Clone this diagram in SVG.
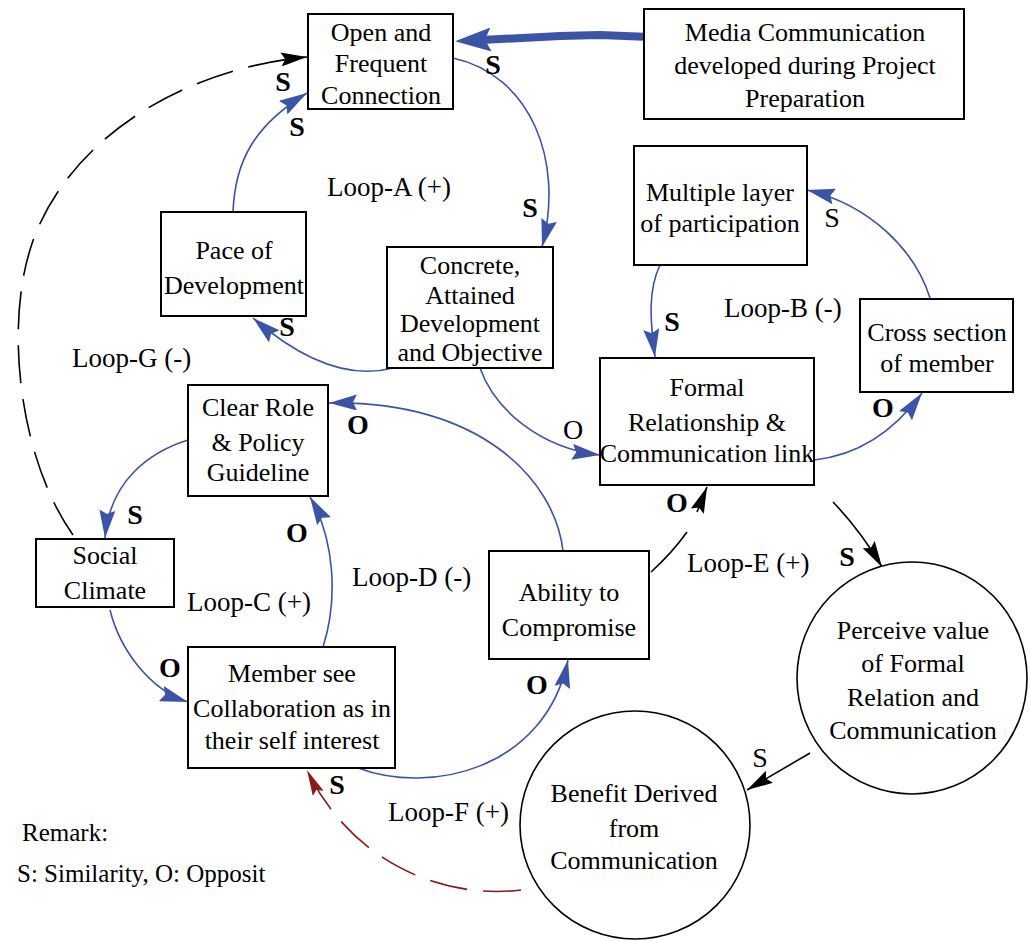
<svg xmlns="http://www.w3.org/2000/svg" width="1030" height="941" viewBox="0 0 1030 941">
<style>
  .box { fill: #fff; stroke: #000; stroke-width: 2; }
  .circ { fill: #fff; stroke: #000; stroke-width: 1.6; }
  .t { font-family: "Liberation Serif", "Times New Roman", serif; font-size: 26px; fill: #000; text-anchor: middle; }
  .loop { font-family: "Liberation Serif", "Times New Roman", serif; font-size: 27px; fill: #000; }
  .rem { font-family: "Liberation Serif", "Times New Roman", serif; font-size: 25px; fill: #000; }
  .sb { font-family: "Liberation Serif", "Times New Roman", serif; font-size: 28px; font-weight: bold; fill: #000; text-anchor: middle; }
  .sr { font-family: "Liberation Serif", "Times New Roman", serif; font-size: 28px; fill: #000; text-anchor: middle; }
  .cb { fill: none; stroke: #3b54a6; stroke-width: 1.6; marker-end: url(#arrB); }
  .ck { fill: none; stroke: #000; stroke-width: 1.6; }
  .dash { stroke-dasharray: 38 16; }
</style>
<defs>
  <marker id="arrB" markerUnits="userSpaceOnUse" markerWidth="28" markerHeight="16" refX="28" refY="8" orient="auto">
    <path d="M0,0 L28,8 L0,16 L4,8 z" fill="#3b54a6"/>
  </marker>
  <marker id="arrK" markerUnits="userSpaceOnUse" markerWidth="26" markerHeight="14" refX="26" refY="7" orient="auto">
    <path d="M0,0 L26,7 L0,14 L4,7 z" fill="#000"/>
  </marker>
  <marker id="arrR" markerUnits="userSpaceOnUse" markerWidth="26" markerHeight="12" refX="26" refY="6" orient="auto">
    <path d="M0,0 L26,6 L0,12 L4,6 z" fill="#8b1a1a"/>
  </marker>
  <marker id="arrBig" markerUnits="userSpaceOnUse" markerWidth="36" markerHeight="24" refX="10" refY="12" orient="auto">
    <path d="M0,0 L36,12 L0,24 L6,12 z" fill="#3b54a6"/>
  </marker>
</defs>

<g id="connectors">
  <path d="M650,37 L600,35 L560,36 L481,40" fill="none" stroke="#3b54a6" stroke-width="8" marker-end="url(#arrBig)"/>
  <path class="cb" d="M453,58 C530,75 565,160 542,247"/>
  <path class="cb" d="M233,212 C235,160 255,125 307,93"/>
  <path class="cb" d="M393,368 C340,382 290,350 253,318"/>
  <path class="cb" d="M480,368 C495,410 540,448 600,455"/>
  <path class="cb" d="M660,265 C648,290 650,320 655,357"/>
  <path class="cb" d="M814,460 C860,455 895,430 922,393"/>
  <path class="cb" d="M930,298 C915,250 870,205 807,190"/>
  <path class="cb" d="M563,551 C555,480 480,400 329,403"/>
  <path class="cb" d="M188,440 C150,452 110,480 105,538"/>
  <path class="cb" d="M110,610 C120,650 150,690 188,702"/>
  <path class="cb" d="M323,647 C338,600 335,540 310,497"/>
  <path class="cb" d="M358,768 C430,795 545,770 568,660"/>
  <path class="ck" d="M651,572 Q672,553 687,532"/>
  <path class="ck" d="M697,512 L707,487" marker-end="url(#arrK)"/>
  <path class="ck" d="M833,502 Q860,530 882,567" marker-end="url(#arrK)"/>
  <path class="ck" d="M810,753 L747,790" marker-end="url(#arrK)"/>
  <path class="ck dash" d="M521,890 C440,900 350,860 307,770" stroke="#8b1a1a" style="stroke:#8b1a1a" marker-end="url(#arrR)"/>
  <path class="ck dash" d="M73,535 C20,460 5,330 30,250 C60,150 170,70 307,57" marker-end="url(#arrK)"/>
</g>

<g id="node-open">
  <rect class="box" x="308" y="14" width="145" height="95"/>
  <text class="t" x="381" y="41">Open and</text>
  <text class="t" x="381" y="72">Frequent</text>
  <text class="t" x="381" y="104">Connection</text>
</g>
<g id="node-media">
  <rect class="box" x="644" y="9" width="320" height="110"/>
  <text class="t" x="805" y="41">Media Communication</text>
  <text class="t" x="805" y="74">developed during Project</text>
  <text class="t" x="805" y="107">Preparation</text>
</g>
<g id="node-pace">
  <rect class="box" x="161" y="212" width="145" height="104"/>
  <text class="t" x="234" y="259">Pace of</text>
  <text class="t" x="234" y="294">Development</text>
</g>
<g id="node-concrete">
  <rect class="box" x="387" y="247" width="166" height="121"/>
  <text class="t" x="470" y="274">Concrete,</text>
  <text class="t" x="470" y="304">Attained</text>
  <text class="t" x="470" y="332">Development</text>
  <text class="t" x="470" y="361">and Objective</text>
</g>
<g id="node-multiple">
  <rect class="box" x="634" y="146" width="173" height="119"/>
  <text class="t" x="720" y="201">Multiple layer</text>
  <text class="t" x="720" y="232">of participation</text>
</g>
<g id="node-cross">
  <rect class="box" x="860" y="299" width="153" height="93"/>
  <text class="t" x="937" y="341">Cross section</text>
  <text class="t" x="937" y="372">of member</text>
</g>
<g id="node-formal">
  <rect class="box" x="600" y="358" width="214" height="127"/>
  <text class="t" x="707" y="396">Formal</text>
  <text class="t" x="707" y="431">Relationship &amp;</text>
  <text class="t" x="707" y="462">Communication link</text>
</g>
<g id="node-clearrole">
  <rect class="box" x="188" y="385" width="140" height="111"/>
  <text class="t" x="258" y="416">Clear Role</text>
  <text class="t" x="258" y="451">&amp; Policy</text>
  <text class="t" x="258" y="481">Guideline</text>
</g>
<g id="node-social">
  <rect class="box" x="36" y="539" width="138" height="68"/>
  <text class="t" x="105" y="564">Social</text>
  <text class="t" x="105" y="599">Climate</text>
</g>
<g id="node-ability">
  <rect class="box" x="489" y="551" width="160" height="108"/>
  <text class="t" x="569" y="601">Ability to</text>
  <text class="t" x="569" y="636">Compromise</text>
</g>
<g id="node-member">
  <rect class="box" x="188" y="647" width="207" height="121"/>
  <text class="t" x="292" y="682">Member see</text>
  <text class="t" x="292" y="717">Collaboration as in</text>
  <text class="t" x="292" y="749">their self interest</text>
</g>
<g id="node-perceive">
  <ellipse class="circ" cx="912" cy="678" rx="115" ry="116"/>
  <text class="t" x="913" y="639">Perceive value</text>
  <text class="t" x="913" y="672">of Formal</text>
  <text class="t" x="913" y="706">Relation and</text>
  <text class="t" x="913" y="739">Communication</text>
</g>
<g id="node-benefit">
  <ellipse class="circ" cx="635" cy="825" rx="115" ry="114"/>
  <text class="t" x="634" y="802">Benefit Derived</text>
  <text class="t" x="634" y="837">from</text>
  <text class="t" x="634" y="869">Communication</text>
</g>

<g id="loop-labels">
  <text class="loop" x="327" y="196">Loop-A (+)</text>
  <text class="loop" x="724" y="317">Loop-B (-)</text>
  <text class="loop" x="72" y="367">Loop-G (-)</text>
  <text class="loop" x="187" y="611">Loop-C (+)</text>
  <text class="loop" x="352" y="586">Loop-D (-)</text>
  <text class="loop" x="687" y="572">Loop-E (+)</text>
  <text class="loop" x="388" y="821">Loop-F (+)</text>
</g>

<g id="link-signs">
  <text class="sb" x="283" y="91">S</text>
  <text class="sb" x="297" y="136">S</text>
  <text class="sb" x="493" y="74">S</text>
  <text class="sb" x="530" y="217">S</text>
  <text class="sb" x="287" y="336">S</text>
  <text class="sb" x="672" y="331">S</text>
  <text class="sb" x="883" y="417">O</text>
  <text class="sb" x="358" y="434">O</text>
  <text class="sb" x="135" y="524">S</text>
  <text class="sb" x="297" y="542">O</text>
  <text class="sb" x="170" y="677">O</text>
  <text class="sb" x="677" y="512">O</text>
  <text class="sb" x="847" y="566">S</text>
  <text class="sb" x="537" y="694">O</text>
  <text class="sb" x="337" y="794">S</text>
  <text class="sr" x="832" y="227">S</text>
  <text class="sr" x="573" y="439">O</text>
  <text class="sr" x="760" y="767">S</text>
</g>

<g id="legend">
  <text class="rem" x="22" y="841">Remark:</text>
  <text class="rem" x="17" y="882">S: Similarity, O: Opposit</text>
</g>
</svg>
